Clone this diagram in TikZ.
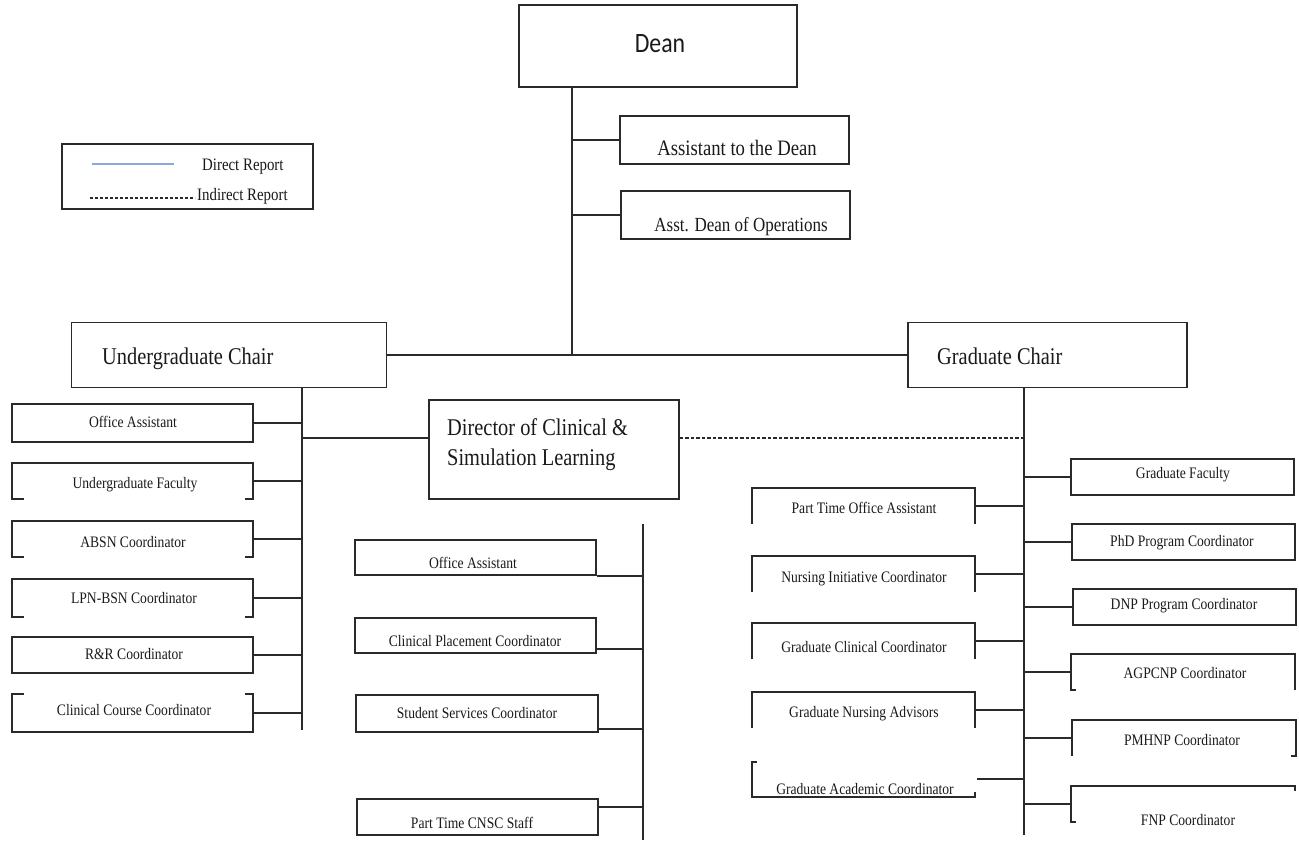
\documentclass[tikz,border=0pt]{standalone}
\usepackage{fontspec}
\setmainfont{Liberation Serif}[FakeStretch=0.85]
\newfontfamily\deanfont{Carlito}[FakeStretch=0.85]
\definecolor{linec}{HTML}{2A2A2A}
\definecolor{txtc}{HTML}{1A1A1A}
\definecolor{legblue}{HTML}{8EA6DA}
\newcommand\fs[1]{\fontsize{#1}{#1}\selectfont}
% \bx[style]{name}{x1}{y1}{x2}{y2}{text x}{text y}{text}
\newcommand\bx[9][box]{%
  \node[#1, minimum width={#5-#3}, minimum height={#6-#4}] (#2) at ({(#3+#5)/2},{(#4+#6)/2}) {};%
  \node[lbl] (#2-t) at (#7,#8) {#9};}
\begin{document}
\begin{tikzpicture}[x=1pt,y=-1pt,
  box/.style={draw=linec, line width=1.6pt, inner sep=0pt},
  openbox/.style={draw=none, inner sep=0pt},
  lbl/.style={inner sep=0pt, text=txtc, font=\fs{16}, anchor=base, yshift=-5.3pt},
  big/.style={inner sep=0pt, text=txtc, font=\fs{24}, anchor=base west, yshift=-8pt},
  conn/.style={draw=linec, line width=1.8pt},
  edge/.style={draw=linec, line width=1.6pt, line join=miter},
  indirect/.style={draw=linec, line width=1.4pt, dash pattern=on 3.5pt off 2pt}]
\useasboundingbox (0,0) rectangle (1299,842);
\fill[white] (0,0) rectangle (1299,842);

% ---------- top ----------
\node[box, minimum width=278, minimum height=82] (dean) at (658,46) {};
\node[inner sep=0pt, text=txtc, font=\deanfont\fs{28}, anchor=base, yshift=-9pt] (dean-t) at (660,44) {Dean};
\node[box, minimum width=229, minimum height=48] (asst) at (734.5,140) {};
\node[inner sep=0pt, text=txtc, font=\fs{22}, anchor=base, yshift=-7.3pt] (asst-t) at (737,148) {Assistant to the Dean};
\node[box, minimum width=229, minimum height=48] (ops) at (735.5,215) {};
\node[inner sep=0pt, text=txtc, font=\fs{20}, anchor=base, yshift=-6.6pt] (ops-t) at (741,225) {Asst. Dean of Operations};

\coordinate (dtr) at (572,355);
\draw[conn] (dean.south -| dtr) -- (dtr);
\draw[conn] (asst.west) -- (asst.west -| dtr);
\draw[conn] (ops.west) -- (ops.west -| dtr);

% ---------- legend ----------
\node[box, minimum width=251, minimum height=65] (legend) at (187.5,176.5) {};
\coordinate (lb1) at (92,164);
\coordinate (lb2) at (174,164);
\draw[legblue, line width=1.5pt] (lb1) -- (lb2);
\coordinate (ld1) at (90,198);
\coordinate (ld2) at (195,198);
\draw[indirect, line width=1.3pt, dash pattern=on 3.2pt off 1.8pt] (ld1) -- (ld2);
\node[inner sep=0pt, anchor=base west, yshift=-5.7pt, text=txtc, font=\fs{17.5}] (leg-d) at (202,165) {Direct Report};
\node[inner sep=0pt, anchor=base west, yshift=-5.7pt, text=txtc, font=\fs{17.5}] (leg-i) at (197,195) {Indirect Report};

% ---------- chairs ----------
\node[box, minimum width=315, minimum height=65] (uc) at (229,355) {};
\node[big] (uc-t) at (102,357) {Undergraduate Chair};
\node[box, minimum width=279, minimum height=65] (gc) at (1047.5,355) {};
\node[big] (gc-t) at (937,357) {Graduate Chair};
\draw[conn] (uc.east) -- (dtr) -- (gc.west);

% ---------- undergraduate side ----------
\coordinate (utr) at (302,730);
\draw[conn] (uc.south -| utr) -- (utr);
\bx{u1}{12}{404}{253}{442}{133}{422}{Office Assistant}
\bx[openbox]{u2}{12}{463}{253}{499}{135}{483}{Undergraduate Faculty}
\bx[openbox]{u3}{12}{521}{253}{557}{133}{542}{ABSN Coordinator}
\bx[openbox]{u4}{12}{579}{253}{617}{134}{598}{LPN-BSN Coordinator}
\bx{u5}{12}{637}{253}{673}{134}{654}{R\&R Coordinator}
\bx[openbox]{u6}{12}{694}{253}{732}{134}{710}{Clinical Course Coordinator}
\foreach \n in {u2,u3,u4}{
  \draw[edge] ([xshift=12pt]\n.south west) -- (\n.south west) -- (\n.north west) -- (\n.north east) -- (\n.south east) -- ([xshift=-8pt]\n.south east);
}
\draw[edge] ([xshift=12pt]u6.north west) -- (u6.north west) -- (u6.south west) -- (u6.south east) -- (u6.north east) -- ([xshift=-8pt]u6.north east);
\foreach \n in {u1,u2,u3,u4,u5,u6}{
  \draw[conn] (\n.east) -- (\n.east -| utr);
}

% ---------- director ----------
\node[box, minimum width=250, minimum height=99] (dir) at (554,449.5) {};
\node[inner sep=0pt, text=txtc, align=left, anchor=north west, font={\fontsize{24}{30}\selectfont}] (dir-t) at (447,418) {Director of Clinical \&\\Simulation Learning};
\coordinate (ulink) at (302,438);
\draw[conn] (ulink) -- (dir.west |- ulink);
\coordinate (gtr) at (1024,835);
\draw[indirect] (dir.east |- ulink) -- (gtr |- ulink);

\coordinate (dtrtop) at (643,524);
\coordinate (dtrbot) at (643,840);
\draw[conn] (dtrtop) -- (dtrbot);
\bx{d1}{355}{540}{596}{575}{473}{563}{Office Assistant}
\bx{d2}{355}{618}{596}{653}{475}{641}{Clinical Placement Coordinator}
\bx{d3}{356}{695}{598}{732}{477}{713}{Student Services Coordinator}
\bx{d4}{357}{799}{598}{835}{472}{823}{Part Time CNSC Staff}
\draw[conn] (d1.south east) -- (d1.south east -| dtrtop);
\draw[conn] (d2.east |- 0,649) -- (dtrtop |- 0,649);
\draw[conn] (d3.east |- 0,729) -- (dtrtop |- 0,729);
\draw[conn] (d4.east |- 0,807) -- (dtrtop |- 0,807);

% ---------- graduate side ----------
\draw[conn] (gc.south -| gtr) -- (gtr);
% left column
\bx[openbox]{g1}{752}{488}{975}{524}{864}{508}{Part Time Office Assistant}
\bx[openbox]{g2}{752}{556}{975}{592}{864}{577}{Nursing Initiative Coordinator}
\bx[openbox]{g3}{752}{623}{975}{659}{864}{647}{Graduate Clinical Coordinator}
\bx[openbox]{g4}{752}{692}{975}{728}{864}{712}{Graduate Nursing Advisors}
\bx[openbox]{g5}{752}{762}{975}{797}{865}{789}{Graduate Academic Coordinator}
\foreach \n in {g1,g2,g3,g4}{
  \draw[edge] (\n.south west) -- (\n.north west) -- (\n.north east) -- (\n.south east);
  \draw[conn] (\n.east) -- (\n.east -| gtr);
}
\draw[edge] ([xshift=5pt]g5.north west) -- (g5.north west) -- (g5.south west) -- (g5.south east) -- ([yshift=5pt]g5.south east);
\coordinate (g5c) at (977,779);
\draw[conn] (g5c) -- (g5c -| gtr);
% right column
\bx{r1}{1071}{459}{1294}{495}{1183}{473}{Graduate Faculty}
\bx{r2}{1072}{524}{1295}{560}{1182}{541}{PhD Program Coordinator}
\bx{r3}{1073}{589}{1296}{625}{1184}{604}{DNP Program Coordinator}
\bx[openbox]{r4}{1071}{654}{1295}{690}{1185}{673}{AGPCNP Coordinator}
\bx[openbox]{r5}{1072}{720}{1296}{756}{1182}{740}{PMHNP Coordinator}
\bx[openbox]{r6}{1071}{786}{1295}{822}{1188}{820}{FNP Coordinator}
\draw[edge] ([xshift=5pt]r4.south west) -- (r4.south west) -- (r4.north west) -- (r4.north east) -- (r4.south east);
\draw[edge] (r5.south west) -- (r5.north west) -- (r5.north east) -- (r5.south east) -- ([xshift=-5pt]r5.south east);
\draw[edge] ([xshift=5pt]r6.south west) -- (r6.south west) -- (r6.north west) -- (r6.north east) -- ([yshift=-5pt]r6.north east);
\foreach \n in {r1,r2,r3,r4,r5,r6}{
  \draw[conn] (\n.west) -- (\n.west -| gtr);
}
\end{tikzpicture}
\end{document}
